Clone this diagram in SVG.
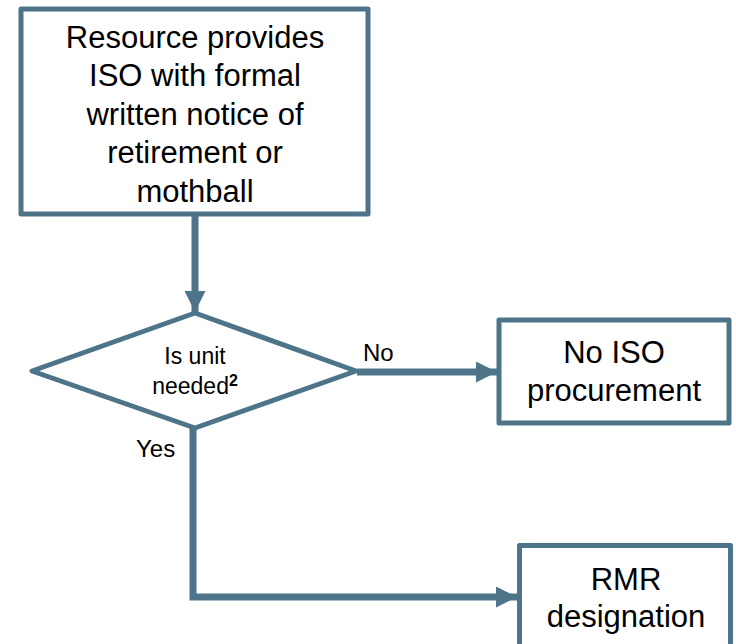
<svg xmlns="http://www.w3.org/2000/svg" width="736" height="644" viewBox="0 0 736 644">
<defs>
<style>
.box{fill:#fff;stroke:#4E7489;stroke-width:5;stroke-linejoin:round}
.line{fill:none;stroke:#4E7489;stroke-width:7}
.big{font-family:"Liberation Sans",Arial,sans-serif;font-size:31px;fill:#000;text-anchor:middle}
.mid{font-family:"Liberation Sans",Arial,sans-serif;font-size:24px;fill:#000}
.small{font-family:"Liberation Sans",Arial,sans-serif;font-size:23px;fill:#000;text-anchor:middle}
</style>
<marker id="ah" viewBox="0 0 10 10" refX="10" refY="5" markerWidth="3.3" markerHeight="3" orient="auto" markerUnits="strokeWidth">
<path d="M0,0 L10,5 L0,10 Z" fill="#4E7489"/>
</marker>
</defs>
<rect width="736" height="644" fill="#fff"/>
<g id="connectors">
<line class="line" x1="195" y1="216" x2="195" y2="312" marker-end="url(#ah)"/>
<line class="line" x1="357" y1="372" x2="497" y2="372" marker-end="url(#ah)"/>
<polyline class="line" points="193,428 193,597 517,597" marker-end="url(#ah)"/>
<text class="mid" x="363" y="361">No</text>
<text class="mid" x="136" y="457">Yes</text>
</g>
<g id="start">
<rect class="box" x="21" y="9" width="347" height="205"/>
<text class="big" x="195" y="48">Resource provides</text>
<text class="big" x="195" y="86">ISO with formal</text>
<text class="big" x="195" y="125">written notice of</text>
<text class="big" x="195" y="163">retirement or</text>
<text class="big" x="195" y="202">mothball</text>
</g>
<g id="decision">
<polygon class="box" points="195,313 32,371 195,428 356,371"/>
<text class="small" x="195" y="364">Is unit</text>
<text class="small" x="195" y="394">needed<tspan font-weight="bold" font-size="16" dy="-8">2</tspan></text>
</g>
<g id="noiso">
<rect class="box" x="499" y="320" width="230" height="103"/>
<text class="big" x="614" y="363">No ISO</text>
<text class="big" x="614" y="401">procurement</text>
</g>
<g id="rmr">
<rect class="box" x="519.5" y="545.5" width="211" height="110"/>
<text class="big" x="626" y="590">RMR</text>
<text class="big" x="626" y="627">designation</text>
</g>
</svg>
